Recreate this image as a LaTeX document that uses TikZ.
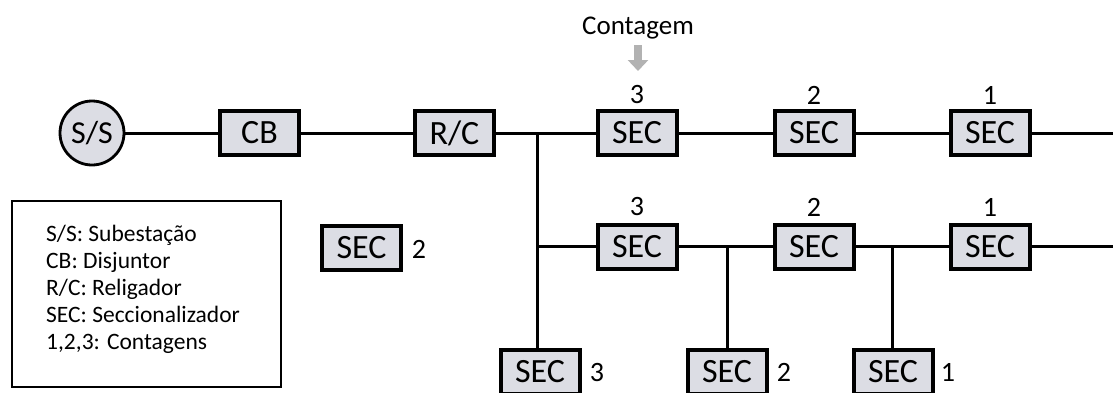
\documentclass[tikz,border=0pt]{standalone}
\usepackage{fontspec}
\setmainfont{Carlito}
\usetikzlibrary{arrows.meta}
\definecolor{boxfill}{RGB}{220,221,228}
\definecolor{arrowgray}{RGB}{178,178,178}
\begin{document}
\begin{tikzpicture}[x=1pt,y=-1pt,
  secbox/.style={draw=black, line width=4pt, fill=boxfill, minimum width=79pt,
    minimum height=44pt, inner sep=0pt, font=\fontsize{34}{38}\selectfont},
  sscircle/.style={circle, draw=black, line width=2.8pt, fill=boxfill,
    minimum size=64pt, inner sep=0pt, font=\fontsize{32}{36}\selectfont},
  wire/.style={line width=3pt},
  numlbl/.style={font=\fontsize{28}{30}\selectfont, inner sep=0pt},
  legtext/.style={anchor=base west, inner sep=0pt, font=\fontsize{23.5}{26}\selectfont},
  legframe/.style={draw=black, line width=2.6pt, minimum width=269pt, minimum height=186pt, inner sep=0pt}]
\useasboundingbox (0,0) rectangle (1113,392);

% main row
\node[sscircle] (ss) at (92,133) {S/S};
\node[secbox] (cb) at (259.5,133) {CB};
\node[secbox] (rc) at (454.5,133) {R/C};
\node[secbox] (s13) at (637,133) {SEC};
\node[secbox] (s12) at (814,133) {SEC};
\node[secbox] (s11) at (990,133) {SEC};
\coordinate (e1) at (1113,133);
\coordinate (j1) at (537,133);

% second row
\node[secbox] (s23) at (637,246.5) {SEC};
\node[secbox] (s22) at (814,246.5) {SEC};
\node[secbox] (s21) at (990,246.5) {SEC};
\coordinate (e2) at (1113,246.5);
\coordinate (j2) at (537,246.5);
\coordinate (j3) at (727,246.5);
\coordinate (j4) at (892,246.5);

% bottom row
\node[secbox] (b3) at (540,372) {SEC};
\node[secbox] (b2) at (727,372) {SEC};
\node[secbox] (b1) at (893,372) {SEC};

% legend
\node[legframe] (legend) at (146.5,294) {};
\node[secbox] (lsec) at (361.5,248) {SEC};
\node[legtext] (l1) at (46,241) {S/S: Subestação};
\node[legtext] (l2) at (46,268) {CB: Disjuntor};
\node[legtext] (l3) at (46,295) {R/C: Religador};
\node[legtext] (l4) at (46,322) {SEC: Seccionalizador};
\node[legtext] (l5) at (46,349) {1,2,3: Contagens};

% count labels
\node[numlbl] (n13) at (637,95) {3};
\node[numlbl] (n12) at (814,95) {2};
\node[numlbl] (n11) at (990,95) {1};
\node[numlbl] (n23) at (637,207) {3};
\node[numlbl] (n22) at (814,207) {2};
\node[numlbl] (n21) at (990,207) {1};
\node[numlbl] (nb3) at (597,372) {3};
\node[numlbl] (nb2) at (784,372) {2};
\node[numlbl] (nb1) at (948,372) {1};
\node[numlbl] (nl2) at (419,249) {2};

% Contagem
\node[anchor=base, inner sep=0pt, font=\fontsize{27}{30}\selectfont] (cont) at (638,34) {Contagem};
\coordinate (a1) at (638,45);
\coordinate (a2) at (638,71);
\draw[arrowgray, line width=8pt, -{Triangle[width=20pt,length=11pt]}] (a1) -- (a2);

% wires
\draw[wire] (ss) -- (cb);
\draw[wire] (cb) -- (rc);
\draw[wire] (rc) -- (s13);
\draw[wire] (s13) -- (s12);
\draw[wire] (s12) -- (s11);
\draw[wire] (s11) -- (e1);
\draw[wire] (j1) -- (j1 |- b3.north);
\draw[wire] (j2) -- (s23);
\draw[wire] (s23) -- (s22);
\draw[wire] (s22) -- (s21);
\draw[wire] (s21) -- (e2);
\draw[wire] (j3) -- (b2.north);
\draw[wire] (j4) -- (j4 |- b1.north);
\end{tikzpicture}
\end{document}
